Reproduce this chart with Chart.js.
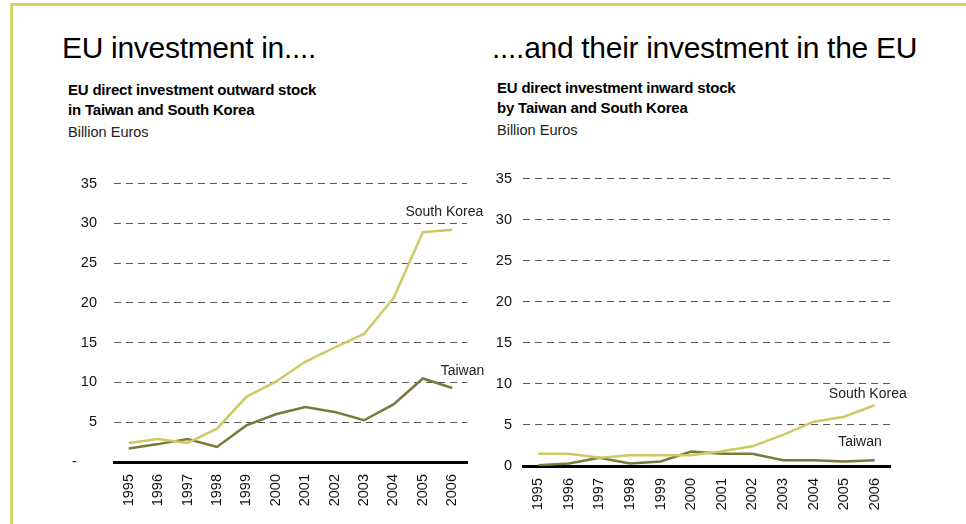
<!DOCTYPE html>
<html>
<head>
<meta charset="utf-8">
<script src="https://cdn.jsdelivr.net/npm/chart.js@4.4.0/dist/chart.umd.min.js"></script>
<style>
body { margin: 0; width: 966px; height: 524px; overflow: hidden; background: #fff; position: relative;
       font-family: "Liberation Sans", Arial, sans-serif; color: #000; }
.frameTop { position: absolute; left: 10px; top: 3px; right: 0; height: 3px; background: #d5cf6c; }
.frameLeft { position: absolute; left: 10px; top: 3px; width: 3px; bottom: 0; background: #d5cf6c; }
.title { position: absolute; font-size: 30px; line-height: 30px; white-space: nowrap; letter-spacing: -0.3px; }
.sub { position: absolute; font-size: 15px; line-height: 20px; font-weight: bold; white-space: nowrap; letter-spacing: -0.2px; }
.unit { position: absolute; font-size: 14.5px; line-height: 20px; white-space: nowrap; color: #222; }
.box { position: absolute; }
</style>
</head>
<body>
<div class="frameTop"></div>
<div class="frameLeft"></div>

<div class="title" style="left:62px;top:33px">EU investment in....</div>
<div class="sub" style="left:68px;top:80px">EU direct investment outward stock<br>in Taiwan and South Korea</div>
<div class="unit" style="left:68px;top:122px">Billion Euros</div>

<div class="title" style="left:492px;top:33px">....and their investment in the EU</div>
<div class="sub" style="left:497px;top:78px">EU direct investment inward stock<br>by Taiwan and South Korea</div>
<div class="unit" style="left:497px;top:120px">Billion Euros</div>

<div class="box" style="left:54px;top:158px;width:433px;height:359px"><canvas id="outward"></canvas></div>
<div class="box" style="left:473px;top:159px;width:437px;height:362px"><canvas id="inward"></canvas></div>

<script>
const years = ['1995', '1996', '1997', '1998', '1999', '2000', '2001', '2002', '2003', '2004', '2005', '2006'];

// EU outward stock in Taiwan / South Korea (bn EUR)
const outwardKorea  = [2.4, 2.9, 2.4, 4.2, 8.2, 10.1, 12.6, 14.4, 16.1, 20.6, 28.9, 29.2];
const outwardTaiwan = [1.7, 2.25, 2.9, 1.9, 4.6, 6.0, 6.9, 6.3, 5.25, 7.25, 10.5, 9.3];

// EU inward stock from Taiwan / South Korea (bn EUR)
const inwardKorea  = [1.5, 1.5, 1.0, 1.3, 1.3, 1.3, 1.8, 2.4, 3.8, 5.4, 6.0, 7.4];
const inwardTaiwan = [0.1, 0.3, 1.0, 0.3, 0.55, 1.75, 1.5, 1.5, 0.7, 0.7, 0.55, 0.7];

const koreaColor = '#cfc964';
const taiwanColor = '#7a793c';

const endLabels = {
    id: 'endLabels',
    afterDatasetsDraw(chart, args, opts) {
        const ctx = chart.ctx;
        chart.data.datasets.forEach((ds, i) => {
            const meta = chart.getDatasetMeta(i);
            const pt = meta.data[meta.data.length - 1];
            const off = opts.offsets[i];
            ctx.save();
            ctx.font = '14px "Liberation Sans", Arial, sans-serif';
            ctx.fillStyle = '#222';
            ctx.textAlign = 'right';
            ctx.textBaseline = 'middle';
            ctx.fillText(ds.label, pt.x + off[0], pt.y + off[1]);
            ctx.restore();
        });
    }
};

function createStockChart(canvasName, korea, taiwan, axisWidth, labelPad, zeroLabel, offsets) {
    const data = {
        labels: years,
        datasets: [
            { label: 'South Korea', data: korea, borderColor: koreaColor, borderWidth: 2.5, pointRadius: 0, tension: 0, fill: false },
            { label: 'Taiwan', data: taiwan, borderColor: taiwanColor, borderWidth: 2.5, pointRadius: 0, tension: 0, fill: false }
        ]
    };
    const config = {
        type: 'line',
        data: data,
        options: {
            responsive: true,
            maintainAspectRatio: false,
            animation: false,
            layout: { padding: { top: 10, right: 20, left: 0, bottom: 0 } },
            plugins: {
                legend: { display: false },
                tooltip: { enabled: false },
                endLabels: { offsets: offsets }
            },
            scales: {
                x: {
                    offset: true,
                    grid: { display: false },
                    border: { display: true, color: '#000', width: 3 },
                    ticks: {
                        minRotation: 90,
                        maxRotation: 90,
                        padding: 4,
                        color: '#111',
                        font: { family: '"Liberation Sans", Arial, sans-serif', size: 14.5 }
                    },
                    afterFit: s => { s.height = 55; }
                },
                y: {
                    min: 0,
                    max: 35,
                    ticks: {
                        stepSize: 5,
                        padding: labelPad,
                        color: '#111',
                        font: { family: '"Liberation Sans", Arial, sans-serif', size: 14.5 },
                        callback: v => v === 0 ? zeroLabel : v
                    },
                    grid: {
                        drawTicks: false,
                        lineWidth: 1,
                        color: ctx => ctx.tick && ctx.tick.value === 0 ? 'rgba(0,0,0,0)' : '#555'
                    },
                    border: { display: false, dash: [7, 5] },
                    afterFit: s => { s.width = axisWidth; }
                }
            }
        },
        plugins: [endLabels]
    };
    return new Chart(canvasName, config);
}

createStockChart('outward', outwardKorea, outwardTaiwan, 60, 17, '-     ', [[31, -18], [32, -17]]);
createStockChart('inward', inwardKorea, inwardTaiwan, 50, 11, '0', [[32, -11], [7, -18]]);
</script>
</body>
</html>
